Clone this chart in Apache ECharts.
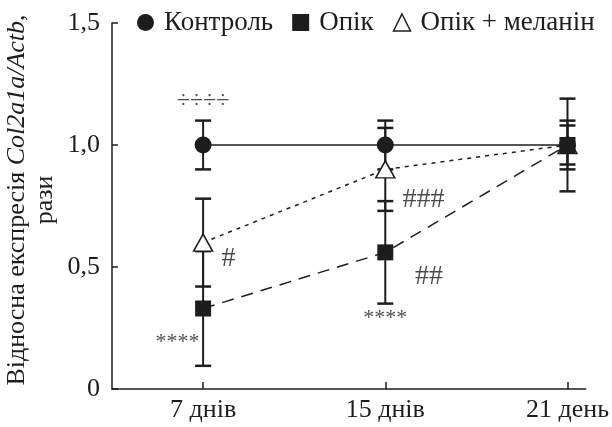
<!DOCTYPE html>
<html><head><meta charset="utf-8">
<script src="https://cdn.jsdelivr.net/npm/echarts@6/dist/echarts.min.js"></script>
<style>html,body{margin:0;padding:0;background:#fff}#c{width:612px;height:427px}</style>
</head><body><div id="c"></div>
<script>
// ---- data ----
const categories = ['7 днів', '15 днів', '21 день'];
const control = [1.0, 1.0, 1.0];
const controlErr = [0.10, 0.10, 0.19];
const burn = [0.33, 0.56, 1.0];
const burnErr = [0.235, 0.21, 0.08];
const burnMel = [0.60, 0.90, 1.0];
const burnMelErr = [0.18, 0.17, 0.10];
const yTicks = ['0', '0,5', '1,0', '1,5'];
// annotations: [category position, value, text]
const annX = [0, -0.14, 0.14, 1, 1.21, 1.24];
const annY = [1.18, 0.19, 0.535, 0.29, 0.775, 0.46];
const annText = ['÷÷÷÷', '****', '#', '****', '###', '##'];
const annSize = [24, 22, 28, 22, 28, 28];

const FONT = 'Liberation Serif';
const INK = '#1f1c1d';

function pts(arr) { return arr.map((v, i) => [i, v]); }
function errData(arr, err) { return arr.map((v, i) => [i, v, err[i]]); }

function renderErr(params, api) {
  const x = api.value(0), m = api.value(1), e = api.value(2);
  const top = api.coord([x, m + e]);
  const bot = api.coord([x, m - e]);
  const hw = 8;
  return {
    type: 'group',
    children: [
      { type: 'line', shape: { x1: top[0], y1: top[1], x2: bot[0], y2: bot[1] }, style: { stroke: INK, lineWidth: 2 } },
      { type: 'line', shape: { x1: top[0] - hw, y1: top[1], x2: top[0] + hw, y2: top[1] }, style: { stroke: INK, lineWidth: 2.5 } },
      { type: 'line', shape: { x1: bot[0] - hw, y1: bot[1], x2: bot[0] + hw, y2: bot[1] }, style: { stroke: INK, lineWidth: 2.5 } }
    ]
  };
}

const chart = echarts.init(document.getElementById('c'), null, { renderer: 'canvas' });
chart.setOption({
  animation: false,
  textStyle: { fontFamily: FONT, color: INK },
  grid: { left: 112, right: 25, top: 23, bottom: 38 },
  legend: {
    left: 132, top: 4, itemGap: 19, itemWidth: 17, itemHeight: 17,
    textStyle: { fontFamily: FONT, fontSize: 27, color: INK, padding: [0, 0, 0, 5] },
    data: [
      { name: 'Контроль', icon: 'circle', itemStyle: { color: INK, borderWidth: 0 } },
      { name: 'Опік', icon: 'rect', itemStyle: { color: INK, borderWidth: 0 } },
      { name: 'Опік + меланін', icon: 'triangle', itemStyle: { color: '#fff', borderColor: INK, borderWidth: 1.5 } }
    ]
  },
  xAxis: {
    type: 'value', min: -0.5, max: 2.1,
    splitLine: { show: false },
    axisLine: { show: true, onZero: false, lineStyle: { color: INK, width: 1.5 } },
    axisTick: { show: true, inside: true, length: 7, customValues: [0, 1, 2], lineStyle: { color: INK, width: 1.5 } },
    axisLabel: { customValues: [0, 1, 2], formatter: v => categories[Math.round(v)], fontFamily: FONT, fontSize: 26, color: INK, margin: 8 }
  },
  yAxis: {
    type: 'value', min: 0, max: 1.5, interval: 0.5,
    splitLine: { show: false },
    axisLine: { show: true, onZero: false, lineStyle: { color: INK, width: 1.5 } },
    axisTick: { show: true, inside: true, length: 6, lineStyle: { color: INK, width: 1.5 } },
    axisLabel: { formatter: v => yTicks[Math.round(v * 2)], fontFamily: FONT, fontSize: 26, color: INK, margin: 12 }
  },
  graphic: [{
    type: 'text', x: 31, y: 200, rotation: Math.PI / 2,
    style: {
      text: '{n|Відносна експресія }{i|Col2a1a/Actb}{n|,}\n{n|рази}',
      align: 'center', verticalAlign: 'middle',
      fill: INK, font: '26px ' + FONT,
      rich: {
        n: { fontFamily: FONT, fontSize: 26, lineHeight: 28, fill: INK },
        i: { fontFamily: FONT, fontSize: 26, lineHeight: 28, fontStyle: 'italic', fill: INK }
      }
    }
  }],
  series: [
    { type: 'custom', name: 'errC', renderItem: renderErr, data: errData(control, controlErr), z: 1, silent: true },
    { type: 'custom', name: 'errM', renderItem: renderErr, data: errData(burnMel, burnMelErr), z: 1, silent: true },
    { type: 'custom', name: 'errB', renderItem: renderErr, data: errData(burn, burnErr), z: 1, silent: true },
    {
      type: 'line', name: 'Контроль', data: pts(control), z: 3,
      symbol: 'circle', symbolSize: 17,
      itemStyle: { color: INK, borderWidth: 0 },
      lineStyle: { color: INK, width: 1.5, type: 'solid' }
    },
    {
      type: 'line', name: 'Опік + меланін', data: pts(burnMel), z: 4,
      symbol: 'triangle', symbolSize: [19, 17],
      itemStyle: { color: '#fff', borderColor: INK, borderWidth: 1.5 },
      lineStyle: { color: INK, width: 1.5, type: [4, 5] }
    },
    {
      type: 'line', name: 'Опік', data: pts(burn), z: 5,
      symbol: 'rect', symbolSize: 16,
      itemStyle: { color: INK, borderWidth: 0 },
      lineStyle: { color: INK, width: 1.5, type: [12, 8] }
    },
    {
      type: 'scatter', name: 'ann', z: 6, silent: true,
      symbolSize: 0,
      data: annX.map((x, i) => ({
        value: [x, annY[i]],
        label: { fontSize: annSize[i] }
      })),
      label: {
        show: true, position: 'inside',
        formatter: p => annText[p.dataIndex],
        fontFamily: FONT, color: INK
      }
    }
  ]
});
</script>
</body></html>
